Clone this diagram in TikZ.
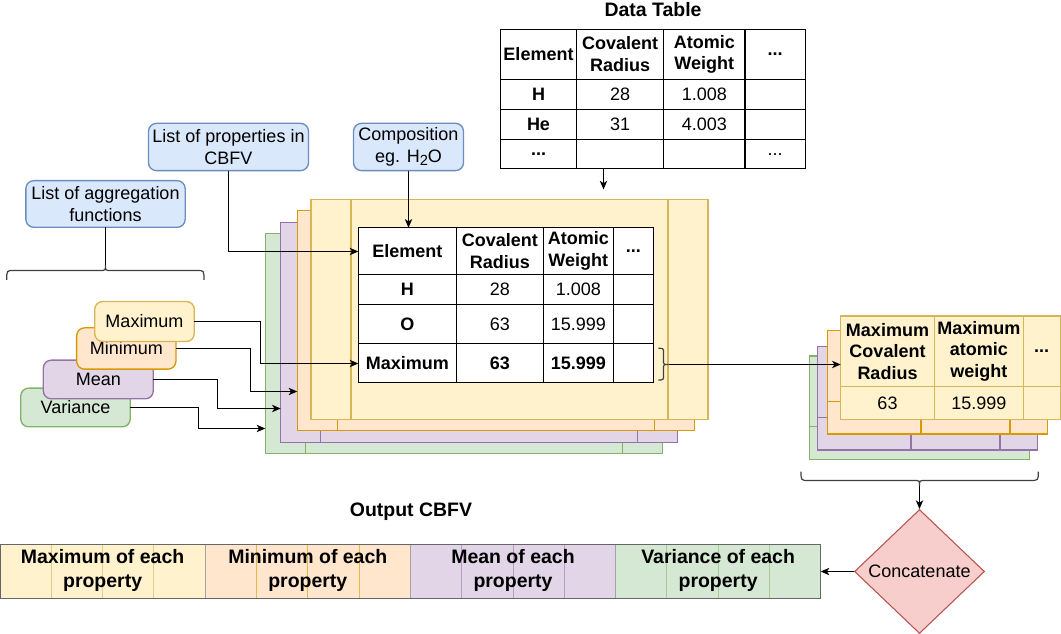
\documentclass[tikz,border=0pt]{standalone}
\usepackage{fontspec}
\setmainfont{Liberation Sans}
\usetikzlibrary{arrows.meta,shapes.geometric,calc}
\definecolor{yelF}{HTML}{FFF2CC}\definecolor{yelD}{HTML}{D6B656}
\definecolor{oraF}{HTML}{FFE6CC}\definecolor{oraD}{HTML}{D79B00}
\definecolor{purF}{HTML}{E1D5E7}\definecolor{purD}{HTML}{9673A6}
\definecolor{greF}{HTML}{D5E8D4}\definecolor{greD}{HTML}{82B366}
\definecolor{bluF}{HTML}{DAE8FC}\definecolor{bluD}{HTML}{6C8EBF}
\definecolor{redF}{HTML}{F8CECC}\definecolor{redD}{HTML}{B85450}
\definecolor{barD}{HTML}{666666}
\tikzset{
  bfs/.style={font=\fontsize{13.5}{16.2}\selectfont\bfseries},
  ttl/.style={font=\fontsize{14.6}{17.6}\selectfont\bfseries},
  arr/.style={draw=black,line width=0.9pt,-{Stealth[length=6.5pt,width=5.5pt,inset=1.8pt]}},
  blubox/.style={draw=bluD,fill=bluF,line width=1pt,rounded corners=6pt,inner sep=0pt,outer sep=0pt,align=center},
  aggbox/.style={line width=1pt,rounded corners=6pt,inner sep=0pt,outer sep=0pt},
  layerbox/.style={line width=1pt,inner sep=0pt,outer sep=0pt,minimum width=297.75pt,minimum height=165pt},
  rlayer/.style={line width=1pt,inner sep=0pt,outer sep=0pt,minimum width=165pt,minimum height=77.5pt},
  tabbox/.style={draw=black,fill=white,line width=1.1pt,inner sep=0pt,outer sep=0pt},
  tline/.style={draw=black,line width=1.1pt},
  cell/.style={inner sep=0pt,align=center},
  bcell/.style={inner sep=0pt,align=center,bfs},
  bracestyle/.style={draw=black!75,line width=0.9pt},
}
\newcommand\procnode[5]{%
  \node[layerbox,fill=#4,draw=#5,anchor=north west] (#1) at (#2,#3) {};
  \draw[#5,line width=1pt] ([xshift=30pt]#1.north west) -- ([xshift=30pt]#1.south west)
    ([xshift=-30pt]#1.north east) -- ([xshift=-30pt]#1.south east);}
\newcommand\rtab[6]{%
  \node[rlayer,fill=#4,draw=#5,anchor=north west] (#1) at (#2,#3) {};
  \draw[#5,line width=1pt] ($(#1.north west)+(0,70.7)$) -- ($(#1.north east)+(0,70.7)$);
  \ifnum#6=1
  \draw[#5,line width=1pt] ($(#1.north west)+(93.6,0)$) -- ($(#1.south west)+(93.6,0)$)
     ($(#1.north west)+(182.6,0)$) -- ($(#1.south west)+(182.6,0)$);
  \fi}
\begin{document}
\begin{tikzpicture}[x=0.75pt,y=-0.75pt,font=\fontsize{13.5}{16.2}\selectfont]
\useasboundingbox (0,0) rectangle (1061,634);

% ---------- Data table ----------
\node[ttl] (dttitle) at (653,10) {Data Table};
\node[tabbox,anchor=north west,minimum width=228.75pt,minimum height=104.55pt] (dtab) at (500.3,29.3) {};
\draw[tline] (576.7,29.3) -- (576.7,168.7) (663.7,29.3) -- (663.7,168.7) (745,29.3) -- (745,168.7);
\draw[tline] (500.3,79.3) -- (805.3,79.3) (500.3,109.3) -- (805.3,109.3) (500.3,139.3) -- (805.3,139.3);
\node[bcell] (d11) at (538.5,54.3) {Element};
\node[bcell] (d12) at (620.2,54.3) {Covalent\\Radius};
\node[bcell] (d13) at (704.3,54.3) {Atomic\\Weight};
\node[bcell] (d14) at (775.2,54.3) {...};
\node[bcell] (d21) at (538.5,94.3) {H};
\node[cell] (d22) at (620.2,94.3) {28};
\node[cell] (d23) at (704.3,94.3) {1.008};
\node[bcell] (d31) at (538.5,124.3) {He};
\node[cell] (d32) at (620.2,124.3) {31};
\node[cell] (d33) at (704.3,124.3) {4.003};
\node[bcell] (d41) at (538.5,154.3) {...};
\node[cell] (d44) at (775.2,154.3) {...};

% ---------- Blue boxes ----------
\node[blubox,minimum width=120pt,minimum height=35.5pt] (props) at (228.5,147) {List of properties in\\CBFV};
\node[blubox,minimum width=82.5pt,minimum height=35.5pt] (comp) at (408.5,147) {Composition\\eg. H\raisebox{-0.3ex}{\fontsize{11}{13}\selectfont 2}O};
\node[blubox,minimum width=119.5pt,minimum height=35pt] (aggf) at (105.5,204) {List of aggregation\\functions};

% ---------- Middle stack ----------
\procnode{LG}{265.3}{233.3}{greF}{greD}
\procnode{LP}{280.7}{222.3}{purF}{purD}
\procnode{LO}{297.3}{210.7}{oraF}{oraD}
\procnode{LY}{311}{199.3}{yelF}{yelD}

\node[tabbox,anchor=north west,minimum width=221.25pt,minimum height=115.95pt] (itab) at (358.3,227.7) {};
\draw[tline] (456.3,227.7) -- (456.3,382.3) (543.3,227.7) -- (543.3,382.3) (613.3,227.7) -- (613.3,382.3);
\draw[tline] (358.3,274.3) -- (653.3,274.3) (358.3,304.7) -- (653.3,304.7) (358.3,343.7) -- (653.3,343.7);
\node[bcell] (i11) at (407.3,251) {Element};
\node[bcell] (i12) at (499.8,251) {Covalent\\Radius};
\node[bcell] (i13) at (578.3,251) {Atomic\\Weight};
\node[bcell] (i14) at (633.3,251) {...};
\node[bcell] (i21) at (407.3,289.5) {H};
\node[cell] (i22) at (499.8,289.5) {28};
\node[cell] (i23) at (578.3,289.5) {1.008};
\node[bcell] (i31) at (407.3,324.2) {O};
\node[cell] (i32) at (499.8,324.2) {63};
\node[cell] (i33) at (578.3,324.2) {15.999};
\node[bcell] (i41) at (407.3,363) {Maximum};
\node[bcell] (i42) at (499.8,363) {63};
\node[bcell] (i43) at (578.3,363) {15.999};

% brace right of inner table
\coordinate (rbTip) at (668.5,364.5);
\draw[bracestyle] (658.3,348.3) .. controls (663.5,348.3) .. (663.5,353.3) -- (663.5,360)
  .. controls (663.5,364.5) .. (rbTip) .. controls (663.5,364.5) .. (663.5,369) -- (663.5,375)
  .. controls (663.5,380) .. (658.3,380);

% ---------- Aggregation boxes ----------
\node[aggbox,draw=greD,fill=greF,minimum width=82.2pt,minimum height=29pt] (varb) at (75.5,407.5) {Variance};
\node[aggbox,draw=purD,fill=purF,minimum width=82.5pt,minimum height=29pt] (meanb) at (98.3,379.5) {Mean};
\node[aggbox,draw=oraD,fill=oraF,minimum width=74.5pt,minimum height=31pt] (minb) at (126.3,348.5) {Minimum};
\node[aggbox,draw=yelD,fill=yelF,minimum width=74.7pt,minimum height=30pt] (maxb) at (144.5,321.5) {Maximum};

% brace under list of aggregation functions
\coordinate (tlTip) at (105.5,265);
\draw[bracestyle] (6.7,280) .. controls (6.7,270.5) .. (14,270.5) -- (100,270.5)
  .. controls (105.5,270.5) .. (tlTip) .. controls (105.5,270.5) .. (110.8,270.5) -- (197,270.5)
  .. controls (204,270.5) .. (204,280);

% ---------- connectors (left/middle) ----------
\coordinate (itabH) at (358.3,251.5);
\coordinate (itabM) at (358.3,363.5);
\coordinate (minIn) at (297.3,391.5);
\coordinate (meanIn) at (280.7,408.5);
\coordinate (varIn) at (265.3,428.5);
\coordinate (dtIn) at (603.5,189.5);
\draw[line width=0.9pt] (aggf.south) -- (tlTip);
\draw[arr] (props.south) |- (itabH);
\draw[arr] (comp.south) -- (comp.south |- itab.north);
\draw[arr] (dtIn |- dtab.south) -- (dtIn);
\draw[arr] (maxb.east) -- ++(66.2,0) |- (itabM);
\draw[arr] (minb.east) -- ++(74.53,0) |- (minIn);
\draw[arr] (meanb.east) -- ++(64.2,0) |- (meanIn);
\draw[arr] (varb.east) -- ++(68.2,0) |- (varIn);

% ---------- Right stack ----------
\rtab{RG}{809.3}{356}{greF}{greD}{0}
\rtab{RP}{817.3}{346.7}{purF}{purD}{1}
\rtab{RO}{827.3}{330.7}{oraF}{oraD}{1}
\rtab{RY}{840.7}{316}{yelF}{yelD}{1}
\node[bcell] (r11) at (887.5,351.3) {Maximum\\Covalent\\Radius};
\node[bcell] (r12) at (978.8,351.3) {Maximum\\atomic\\weight};
\node[bcell] (r13) at (1041.7,351.3) {...};
\node[cell] (r21) at (887.5,403) {63};
\node[cell] (r22) at (978.8,403) {15.999};
\draw[arr] (rbTip) -- (rbTip -| RY.west);

% bottom brace
\coordinate (bTip) at (919.5,486);
\draw[bracestyle] (801,471.7) .. controls (801,480.5) .. (809,480.5) -- (914,480.5)
  .. controls (919.5,480.5) .. (bTip) .. controls (919.5,480.5) .. (924.8,480.5) -- (1030,480.5)
  .. controls (1038.3,480.5) .. (1038.3,471.7);

% ---------- Concatenate ----------
\node[diamond,draw=redD,fill=redF,line width=0.8pt,minimum width=97.5pt,minimum height=93pt,inner sep=0pt] (conc) at (919.5,571.5) {Concatenate};
\draw[arr] (bTip) -- (conc.north);

% ---------- Output bar ----------
\node[ttl] (outtitle) at (411,512) {Output CBFV};
\foreach \i/\f/\d in {0/yelF/yelD,1/oraF/oraD,2/purF/purD,3/greF/greD}{
  \fill[\f] ({\i*205.175},544.3) rectangle ({(\i+1)*205.175},597.7);
  \foreach \j in {1,2,3}{\draw[\d!70,line width=0.6pt] ({\i*205.175+\j*51.29},544.3) -- ++(0,53.4);}
}
\draw[barD!60,line width=0.6pt] (205.175,544.3) -- ++(0,53.4) (410.35,544.3) -- ++(0,53.4) (615.5,544.3) -- ++(0,53.4);
\node[draw=barD,line width=1pt,inner sep=0pt,outer sep=0pt,minimum width=615.5pt,minimum height=40pt] (bar) at (410.35,571.5) {};
\node[ttl,align=center] (s1) at (102.6,570.3) {Maximum of each\\property};
\node[ttl,align=center] (s2) at (307.8,570.3) {Minimum of each\\property};
\node[ttl,align=center] (s3) at (513,570.3) {Mean of each\\property};
\node[ttl,align=center] (s4) at (718.1,570.3) {Variance of each\\property};
\draw[arr] (conc.west) -- (bar.east);
\end{tikzpicture}
\end{document}
